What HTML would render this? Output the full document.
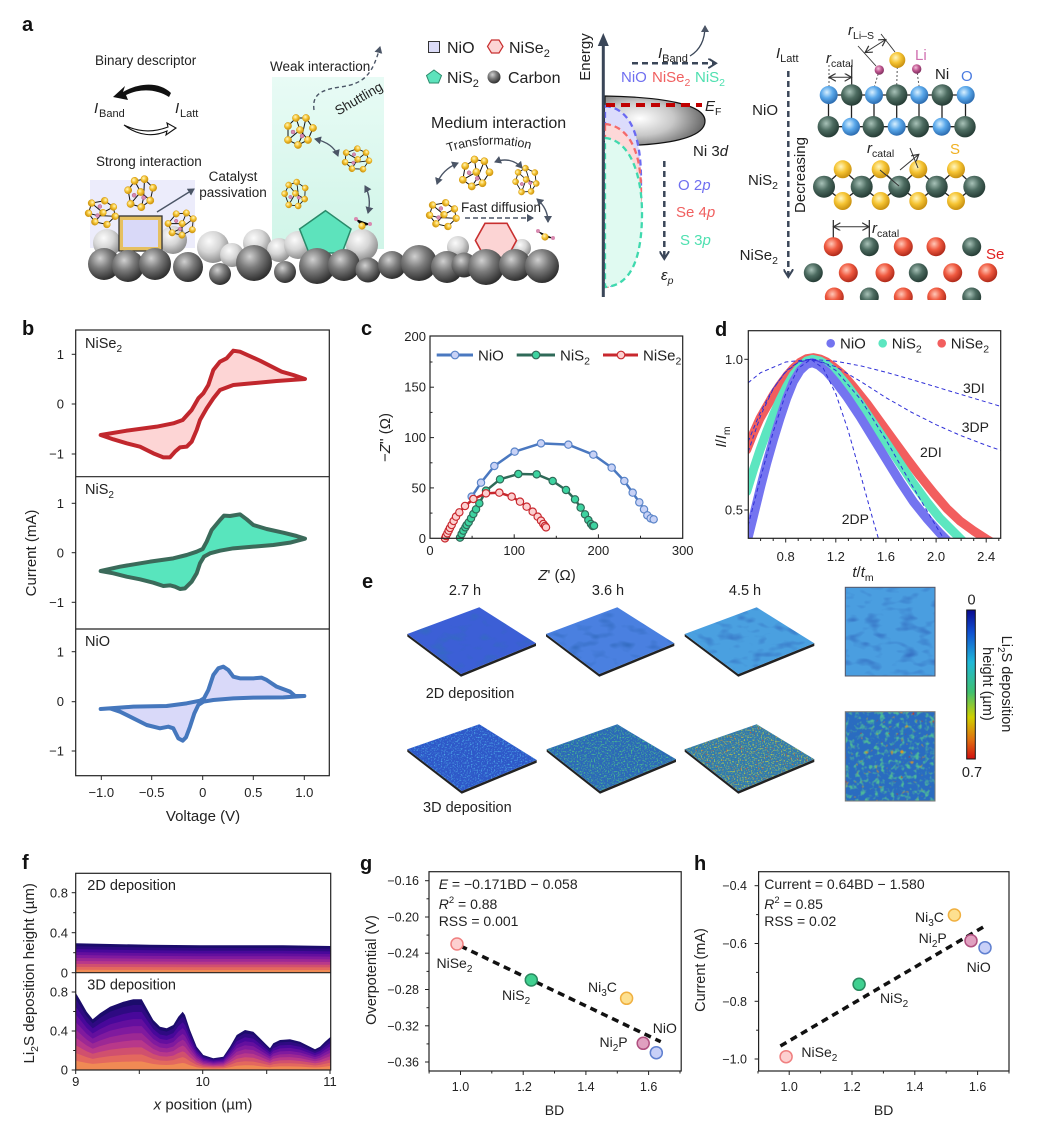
<!DOCTYPE html>
<html><head><meta charset="utf-8"><style>
html,body{margin:0;padding:0;background:#fff;}
svg{display:block;font-family:"Liberation Sans",sans-serif;}
</style></head><body>
<svg width="1037" height="1123" viewBox="0 0 1037 1123" xmlns="http://www.w3.org/2000/svg">
<defs>
<radialGradient id="gDark" cx="0.38" cy="0.32" r="0.7"><stop offset="0" stop-color="#d0d0d0"/><stop offset="0.45" stop-color="#7c7c7c"/><stop offset="1" stop-color="#2c2c2c"/></radialGradient>
<radialGradient id="gLight" cx="0.38" cy="0.32" r="0.7"><stop offset="0" stop-color="#fbfbfb"/><stop offset="0.5" stop-color="#d6d6d6"/><stop offset="1" stop-color="#8c8c8c"/></radialGradient>
<radialGradient id="gNi" cx="0.4" cy="0.35" r="0.65"><stop offset="0" stop-color="#a8c2b8"/><stop offset="0.5" stop-color="#4d6c61"/><stop offset="1" stop-color="#263d36"/></radialGradient>
<radialGradient id="gO" cx="0.4" cy="0.35" r="0.65"><stop offset="0" stop-color="#d8f0ff"/><stop offset="0.5" stop-color="#5aa8ea"/><stop offset="1" stop-color="#2c6cb0"/></radialGradient>
<radialGradient id="gS" cx="0.4" cy="0.35" r="0.65"><stop offset="0" stop-color="#fff6c0"/><stop offset="0.5" stop-color="#f6c534"/><stop offset="1" stop-color="#c89010"/></radialGradient>
<radialGradient id="gSe" cx="0.4" cy="0.35" r="0.65"><stop offset="0" stop-color="#ffc8b8"/><stop offset="0.5" stop-color="#f05a40"/><stop offset="1" stop-color="#b02a1a"/></radialGradient>
<radialGradient id="gLi" cx="0.4" cy="0.35" r="0.65"><stop offset="0" stop-color="#f4c0dc"/><stop offset="0.5" stop-color="#c05890"/><stop offset="1" stop-color="#803060"/></radialGradient>
<radialGradient id="gBand" cx="0.35" cy="0.45" r="0.75"><stop offset="0" stop-color="#ffffff"/><stop offset="0.45" stop-color="#c8c8c8"/><stop offset="1" stop-color="#4a4a4a"/></radialGradient>
<linearGradient id="gCyan" x1="0" y1="0" x2="0" y2="1"><stop offset="0" stop-color="#e8fbf5"/><stop offset="1" stop-color="#d0f5e8"/></linearGradient>
<linearGradient id="gCbar" x1="0" y1="0" x2="0" y2="1"><stop offset="0" stop-color="#0a0a90"/><stop offset="0.15" stop-color="#1050d0"/><stop offset="0.35" stop-color="#20b8d8"/><stop offset="0.55" stop-color="#40c070"/><stop offset="0.72" stop-color="#d0d000"/><stop offset="0.87" stop-color="#e07010"/><stop offset="1" stop-color="#d01010"/></linearGradient>
<marker id="ah" markerWidth="8" markerHeight="8" refX="6" refY="4" orient="auto" markerUnits="userSpaceOnUse"><path d="M0,0 L7,4 L0,8 Z" fill="#4b5566"/></marker>
<marker id="ahs" markerWidth="8" markerHeight="8" refX="6" refY="4" orient="auto-start-reverse" markerUnits="userSpaceOnUse"><path d="M0,0 L7,4 L0,8 Z" fill="#4b5566"/></marker>
<marker id="ahd" markerWidth="10" markerHeight="10" refX="7" refY="5" orient="auto" markerUnits="userSpaceOnUse"><path d="M0,0 L8,5 L0,10" fill="none" stroke="#3a4658" stroke-width="2"/></marker>
<marker id="ahk" markerWidth="8" markerHeight="8" refX="6" refY="4" orient="auto-start-reverse" markerUnits="userSpaceOnUse"><path d="M0,0 L7,4 L0,8" fill="none" stroke="#333" stroke-width="1.2"/></marker>
<g id="cl">
<g stroke="#111" stroke-width="1" fill="none">
<path d="M-12,-6 L-4,-14 L6,-14 L13,-4 L8,8 L-2,13 L-12,8 Z M-4,-14 L0,-2 L8,8 M0,-2 L-12,8 M6,-14 L2,4 L-2,13"/>
</g>
<g fill="url(#gS)" stroke="#d49a10" stroke-width="0.5">
<circle cx="-12" cy="-6" r="3.6"/><circle cx="-4" cy="-14" r="3.6"/><circle cx="6" cy="-14" r="3.6"/><circle cx="13" cy="-4" r="3.6"/><circle cx="8" cy="8" r="3.6"/><circle cx="-2" cy="13" r="3.6"/><circle cx="-12" cy="8" r="3.6"/><circle cx="0" cy="-2" r="3.6"/>
</g>
<circle cx="2" cy="4" r="2" fill="#d88ab0" stroke="#a05078" stroke-width="0.4"/><circle cx="-7" cy="0" r="2" fill="#d88ab0" stroke="#a05078" stroke-width="0.4"/>
</g>
<path id="flp" d="M75.7,992.7 L80,1000 L86.7,1011.7 L92.7,1019.3 L100,1013.3 L110,1006.7 L123.3,1001.7 L133.3,999.3 L141.7,999.3 L146.7,1008.3 L153.3,1020 L160,1026.7 L166.7,1028.3 L173.3,1025 L178.3,1016.7 L182.7,1011.7 L185,1015 L190,1030 L196.7,1046.7 L203.3,1055 L213.3,1058.3 L223.3,1056.7 L230,1046.7 L236.7,1035 L245,1030 L253.3,1031.7 L260,1038.3 L266.7,1045 L270,1048.3 L273.3,1043.3 L280,1040 L290,1039.3 L300,1041.7 L310,1046.7 L315,1049.3 L320,1046.7 L325,1041.7 L330.7,1036.7 L330.7,1070 L75.7,1070 Z"/>
<path id="fup" d="M75.7,943.3 L110,944 L150,944.7 L200,945.3 L250,945.3 L283,945.3 L330.7,946 L330.7,972.7 L75.7,972.7 Z"/>
<clipPath id="clipD"><rect x="748.3" y="330.7" width="252.4" height="207.6"/></clipPath>
<clipPath id="clipFu"><rect x="75.7" y="873.3" width="255" height="99.4"/></clipPath>
<clipPath id="clipFl"><rect x="75.7" y="972.7" width="255" height="97.3"/></clipPath>
<filter id="sp1" x="0" y="0" width="1" height="1" color-interpolation-filters="sRGB"><feTurbulence type="fractalNoise" baseFrequency="0.7" numOctaves="1" seed="2" result="n"/><feColorMatrix in="n" type="matrix" values="0 0 0 0 0.3 0 0 0 0 0.65 0 0 0 0 0.9 4 0 0 0 -2.05" result="c"/><feComposite in="c" in2="SourceGraphic" operator="in" result="m"/><feMerge><feMergeNode in="SourceGraphic"/><feMergeNode in="m"/></feMerge></filter>
<filter id="sp2" x="0" y="0" width="1" height="1" color-interpolation-filters="sRGB"><feTurbulence type="fractalNoise" baseFrequency="0.7" numOctaves="1" seed="5" result="n"/><feColorMatrix in="n" type="matrix" values="0 0 0 0 0.3 0 0 0 0 0.75 0 0 0 0 0.55 4 0 0 0 -2.0" result="c"/><feComposite in="c" in2="SourceGraphic" operator="in" result="m"/><feMerge><feMergeNode in="SourceGraphic"/><feMergeNode in="m"/></feMerge></filter>
<filter id="sp3" x="0" y="0" width="1" height="1" color-interpolation-filters="sRGB"><feTurbulence type="fractalNoise" baseFrequency="0.7" numOctaves="1" seed="8" result="n"/><feColorMatrix in="n" type="matrix" values="0 0 0 0 0.7 0 0 0 0 0.78 0 0 0 0 0.3 4 0 0 0 -2.0" result="c"/><feComposite in="c" in2="SourceGraphic" operator="in" result="m"/><feTurbulence type="fractalNoise" baseFrequency="0.5" numOctaves="1" seed="13" result="n2"/><feColorMatrix in="n2" type="matrix" values="0 0 0 0 0.85 0 0 0 0 0.3 0 0 0 0 0.15 5 0 0 0 -3.2" result="c2"/><feComposite in="c2" in2="SourceGraphic" operator="in" result="m2"/><feMerge><feMergeNode in="SourceGraphic"/><feMergeNode in="m"/><feMergeNode in="m2"/></feMerge></filter>
<filter id="sp4" x="0" y="0" width="1" height="1" color-interpolation-filters="sRGB"><feTurbulence type="fractalNoise" baseFrequency="0.2" numOctaves="2" seed="4" result="n"/><feColorMatrix in="n" type="matrix" values="0 0 0 0 0.3 0 0 0 0 0.72 0 0 0 0 0.6 4 0 0 0 -2.0" result="c"/><feComposite in="c" in2="SourceGraphic" operator="in" result="m"/><feTurbulence type="fractalNoise" baseFrequency="0.2" numOctaves="1" seed="21" result="n2"/><feColorMatrix in="n2" type="matrix" values="0 0 0 0 0.9 0 0 0 0 0.6 0 0 0 0 0.1 6 0 0 0 -4.0" result="c2"/><feComposite in="c2" in2="SourceGraphic" operator="in" result="m2"/><feTurbulence type="fractalNoise" baseFrequency="0.25" numOctaves="1" seed="33" result="n3"/><feColorMatrix in="n3" type="matrix" values="0 0 0 0 0.85 0 0 0 0 0.2 0 0 0 0 0.1 7 0 0 0 -5.0" result="c3"/><feComposite in="c3" in2="SourceGraphic" operator="in" result="m3"/><feMerge><feMergeNode in="SourceGraphic"/><feMergeNode in="m"/><feMergeNode in="m2"/><feMergeNode in="m3"/></feMerge></filter>
<filter id="sp5" x="0" y="0" width="1" height="1" color-interpolation-filters="sRGB"><feTurbulence type="fractalNoise" baseFrequency="0.06 0.12" numOctaves="2" seed="3" result="n"/><feColorMatrix in="n" type="matrix" values="0 0 0 0 0.2 0 0 0 0 0.42 0 0 0 0 0.75 2.5 0 0 0 -1.3" result="c"/><feComposite in="c" in2="SourceGraphic" operator="in" result="m"/><feMerge><feMergeNode in="SourceGraphic"/><feMergeNode in="m"/></feMerge></filter>
</defs>

<rect width="1037" height="1123" fill="#fff"/>

<!-- ================= PANEL A ================= -->
<text x="22" y="31" font-size="20" font-weight="bold" fill="#111">a</text>
<rect x="90" y="180" width="105" height="68" fill="#ececfb"/>
<rect x="272" y="77" width="112" height="172" fill="url(#gCyan)"/>
<g fill="url(#gLight)">
<circle cx="107" cy="243" r="14"/><circle cx="173" cy="240" r="14"/><circle cx="213" cy="247" r="16"/><circle cx="257" cy="243" r="14"/><circle cx="279" cy="250" r="12"/><circle cx="298" cy="245" r="14"/><circle cx="362" cy="245" r="16"/><circle cx="458" cy="247" r="11"/><circle cx="522" cy="248" r="9"/><circle cx="232" cy="255" r="12"/>
</g>
<rect x="121" y="218" width="39" height="31" fill="#d9d9f8" stroke="#e6c060" stroke-width="4"/>
<rect x="119" y="216" width="43" height="35" fill="none" stroke="#333" stroke-width="1.3"/>
<polygon points="325.5,210.7 351,229 342,253 309,253 299.6,229" fill="#5de3bc" stroke="#2a8a6a" stroke-width="1.5"/>
<polygon points="475.4,240.5 485,223.3 507,223.3 516.5,240.5 507,258 485,258" fill="#fcd4d4" stroke="#c83030" stroke-width="1.6"/>
<g fill="url(#gDark)">
<circle cx="104" cy="264" r="16"/><circle cx="128" cy="266" r="16"/><circle cx="155" cy="264" r="16"/><circle cx="188" cy="267" r="15"/><circle cx="220" cy="274" r="11"/><circle cx="254" cy="263" r="18"/><circle cx="285" cy="272" r="11"/><circle cx="317" cy="266" r="18"/><circle cx="344" cy="265" r="16"/><circle cx="368" cy="270" r="12.5"/><circle cx="392" cy="265" r="14"/><circle cx="419" cy="263" r="18"/><circle cx="447" cy="267" r="16"/><circle cx="464" cy="265" r="12.5"/><circle cx="486" cy="267" r="18"/><circle cx="515" cy="265" r="16"/><circle cx="542" cy="266" r="17"/>
</g>
<use href="#cl" transform="translate(101,213) rotate(80) scale(0.95)"/>
<use href="#cl" transform="translate(141,194) rotate(-10)"/>
<use href="#cl" transform="translate(181,225) rotate(40) scale(0.9)"/>
<use href="#cl" transform="translate(300,132)"/>
<use href="#cl" transform="translate(356,160) rotate(70) scale(0.85)"/>
<use href="#cl" transform="translate(296,195) rotate(-20) scale(0.85)"/>
<use href="#cl" transform="translate(476,174) rotate(10)"/>
<use href="#cl" transform="translate(527,181) rotate(-30) scale(0.85)"/>
<use href="#cl" transform="translate(442,215) rotate(80) scale(0.95)"/>
<g stroke="#111" stroke-width="1"><path d="M356,219 L362,226 L370,224 M538,231 L545,237 L553,238"/></g>
<circle cx="362" cy="226" r="3.6" fill="url(#gS)"/><circle cx="356" cy="219" r="2" fill="#d88ab0"/><circle cx="370" cy="224" r="2" fill="#d88ab0"/>
<circle cx="545" cy="237" r="3.6" fill="url(#gS)"/><circle cx="538" cy="231" r="2" fill="#d88ab0"/><circle cx="553" cy="238" r="2" fill="#d88ab0"/>
<g fill="none" stroke="#4b5566" stroke-width="1.4">
<path d="M157,212 L194,189" marker-end="url(#ah)"/>
<path d="M314,110 C312,95 320,90 340,87 C366,84 373,72 380,47" stroke-dasharray="4,3" marker-end="url(#ah)"/>
<path d="M315,139 C328,142 335,148 338,156" marker-start="url(#ahs)" marker-end="url(#ahs)"/>
<path d="M365,186 C370,195 370,205 368,213" marker-start="url(#ahs)" marker-end="url(#ahs)"/>
<path d="M458,163 C446,168 440,175 437,184" marker-start="url(#ahs)" marker-end="url(#ahs)"/>
<path d="M495,162 C505,158 515,160 522,168" marker-start="url(#ahs)" marker-end="url(#ahs)"/>
<path d="M537,199 C545,206 548,214 548,222" marker-start="url(#ahs)" marker-end="url(#ahs)"/>
<path d="M465,218 L533,218" stroke-dasharray="5,3" marker-end="url(#ah)"/>
</g>
<path d="M171,93 C160,82 140,82 123,92 L125,86 L113,97 L128,100 L126,95 C140,88 157,89 169,97 Z" fill="#111"/>
<path d="M124,125 C140,133 155,132 168,127 L167,123 L176,128 L166,135 L167,131 C154,137 138,136 124,125 Z" fill="#fff" stroke="#111" stroke-width="1.1"/>
<g fill="#222" font-size="13.5">
<text x="95" y="65">Binary descriptor</text>
<text x="94" y="113" font-style="italic" font-size="15">I</text><text x="99" y="117" font-size="11">Band</text>
<text x="175" y="113" font-style="italic" font-size="15">I</text><text x="180" y="117" font-size="11">Latt</text>
<text x="96" y="166">Strong interaction</text>
<text x="233" y="181" text-anchor="middle">Catalyst</text>
<text x="233" y="197" text-anchor="middle">passivation</text>
<text x="270" y="71">Weak interaction</text>
<text x="359" y="103" text-anchor="middle" transform="rotate(-30 359 99)">Shuttling</text>
<text x="431" y="128" font-size="16">Medium interaction</text>
<path id="tfp" d="M448,152 Q493,137 540,152" fill="none"/>
<text font-size="12.5"><textPath href="#tfp">Transformation</textPath></text>
<text x="461" y="212">Fast diffusion</text>
</g>
<rect x="428.5" y="41.5" width="11" height="11" fill="#dcdcf8" stroke="#333" stroke-width="1"/>
<text x="447" y="53" font-size="16" fill="#222">NiO</text>
<polygon points="487.5,46.5 491.5,40 499,40 503,46.5 499,53 491.5,53" fill="#fcd4d4" stroke="#c83030" stroke-width="1.2"/>
<text x="509" y="53" font-size="16" fill="#222">NiSe<tspan font-size="11" dy="4">2</tspan></text>
<polygon points="434,70 441.5,75.5 438.5,83 429.5,83 426.5,75.5" fill="#5de3bc" stroke="#2a8a6a" stroke-width="1"/>
<text x="447" y="83" font-size="16" fill="#222">NiS<tspan font-size="11" dy="4">2</tspan></text>
<circle cx="494" cy="77" r="6.5" fill="url(#gDark)"/>
<text x="508" y="83" font-size="16" fill="#222">Carbon</text>

<path d="M605,96 C662,97 705,104 705,121 C705,138 668,146 605,146 Z" fill="url(#gBand)" stroke="#111" stroke-width="1.2"/>
<path d="M605,106 C630,108 641,135 641,180 C641,240 630,285 605,287 Z" fill="#dcdcfc" stroke="#6a6af2" stroke-width="2.3" stroke-dasharray="6,4"/>
<path d="M605,124 C628,126 641,150 641,190 C641,245 630,285 605,287 Z" fill="#fdd8d8" stroke="#f46a6a" stroke-width="2.3" stroke-dasharray="6,4"/>
<path d="M605,138 C630,140 642,175 642,213 C642,260 630,286 605,287 Z" fill="#e0faf1" stroke="#3fd9ae" stroke-width="2.3" stroke-dasharray="6,4"/>
<line x1="606" y1="105" x2="702" y2="105" stroke="#c00000" stroke-width="4" stroke-dasharray="9,6"/>
<line x1="603.3" y1="44" x2="603.3" y2="297" stroke="#3a4658" stroke-width="3"/>
<polygon points="603.3,33 597.8,46 608.8,46" fill="#3a4658"/>
<text x="590" y="57" font-size="15" fill="#222" text-anchor="middle" transform="rotate(-90 590 57)">Energy</text>
<text x="658" y="58" font-size="15" fill="#222"><tspan font-style="italic">I</tspan><tspan font-size="11" dy="4">Band</tspan></text>
<path d="M690,56 C700,50 705,40 705,26" fill="none" stroke="#3a4658" stroke-width="1.3" marker-end="url(#ah)"/>
<line x1="632" y1="63.3" x2="715" y2="63.3" stroke="#3a4658" stroke-width="2.5" stroke-dasharray="6,4" marker-end="url(#ahd)"/>
<text x="621" y="82" font-size="15" fill="#6f6ff0">NiO</text>
<text x="652" y="82" font-size="15" fill="#f06060">NiSe<tspan font-size="10.5" dy="4">2</tspan></text>
<text x="695" y="82" font-size="15" fill="#4fe0b0">NiS<tspan font-size="10.5" dy="4">2</tspan></text>
<text x="705" y="111" font-size="15" fill="#222" font-style="italic">E<tspan font-size="10.5" dy="4" font-style="normal">F</tspan></text>
<text x="693" y="156" font-size="15" fill="#222">Ni 3<tspan font-style="italic">d</tspan></text>
<line x1="664.3" y1="161" x2="664.3" y2="258" stroke="#3a4658" stroke-width="2.5" stroke-dasharray="6,4" marker-end="url(#ahd)"/>
<text x="661" y="280" font-size="15" fill="#222" font-style="italic">ε<tspan font-size="10.5" dy="4">p</tspan></text>
<text x="678" y="190" font-size="15" fill="#6f6ff0">O 2<tspan font-style="italic">p</tspan></text>
<text x="676" y="217" font-size="15" fill="#f06060">Se 4<tspan font-style="italic">p</tspan></text>
<text x="680" y="245" font-size="15" fill="#4fe0b0">S 3<tspan font-style="italic">p</tspan></text>

<text x="776" y="58" font-size="15" fill="#222"><tspan font-style="italic">I</tspan><tspan font-size="11" dy="4">Latt</tspan></text>
<line x1="788.3" y1="71" x2="788.3" y2="276" stroke="#3a4658" stroke-width="2.5" stroke-dasharray="6,4" marker-end="url(#ahd)"/>
<text x="805" y="175" font-size="15" fill="#222" text-anchor="middle" transform="rotate(-90 805 175)">Decreasing</text>
<text x="778" y="115" font-size="15" fill="#222" text-anchor="end">NiO</text>
<text x="778" y="185" font-size="15" fill="#222" text-anchor="end">NiS<tspan font-size="10.5" dy="4">2</tspan></text>
<text x="778" y="260" font-size="15" fill="#222" text-anchor="end">NiSe<tspan font-size="10.5" dy="4">2</tspan></text>
<g stroke="#222" stroke-width="1.3">
<line x1="828" y1="95" x2="966" y2="95"/><line x1="828" y1="126.7" x2="966" y2="126.7"/>
<line x1="828.5" y1="95" x2="828.5" y2="126.7"/><line x1="851.5" y1="95" x2="851.5" y2="126.7"/><line x1="874" y1="95" x2="874" y2="126.7"/><line x1="896.7" y1="95" x2="896.7" y2="126.7"/><line x1="919" y1="95" x2="919" y2="126.7"/><line x1="942" y1="95" x2="942" y2="126.7"/><line x1="965.5" y1="95" x2="965.5" y2="126.7"/>
</g>
<g stroke="#555" stroke-width="1" stroke-dasharray="2,2"><line x1="879.3" y1="70" x2="874" y2="88"/><line x1="897.3" y1="67" x2="896.7" y2="86"/><line x1="916.7" y1="69" x2="919.3" y2="88"/><line x1="829" y1="65" x2="829" y2="86"/></g>
<line x1="851.7" y1="65" x2="851.7" y2="86" stroke="#222" stroke-width="1.2"/>
<line x1="830" y1="77.3" x2="850.5" y2="77.3" stroke="#333" stroke-width="1" marker-start="url(#ahk)" marker-end="url(#ahk)"/>
<g fill="url(#gO)"><circle cx="828.7" cy="95" r="9"/><circle cx="874" cy="95" r="9"/><circle cx="919.3" cy="95" r="9"/><circle cx="965.7" cy="95" r="9"/><circle cx="851" cy="126.7" r="9"/><circle cx="896.7" cy="126.7" r="9"/><circle cx="941.7" cy="126.7" r="9"/></g>
<g fill="url(#gNi)"><circle cx="851.7" cy="95" r="10.7"/><circle cx="896.7" cy="95" r="10.7"/><circle cx="942.3" cy="95" r="10.7"/><circle cx="828.3" cy="126.7" r="10.7"/><circle cx="873.3" cy="126.7" r="10.7"/><circle cx="918.3" cy="126.7" r="10.7"/><circle cx="965" cy="126.7" r="10.7"/></g>
<circle cx="897.3" cy="60" r="8" fill="url(#gS)"/>
<circle cx="879.3" cy="70" r="4.7" fill="url(#gLi)"/><circle cx="916.7" cy="69" r="4.7" fill="url(#gLi)"/>
<g stroke="#333" stroke-width="0.9"><line x1="858" y1="46" x2="876" y2="66"/><line x1="881" y1="34" x2="895" y2="52"/></g>
<line x1="866" y1="52" x2="885" y2="40" stroke="#333" stroke-width="1" marker-start="url(#ahk)" marker-end="url(#ahk)"/>
<text x="848" y="35" font-size="15" fill="#222"><tspan font-style="italic">r</tspan><tspan font-size="10.5" dy="4">Li–S</tspan></text>
<text x="826" y="63" font-size="15" fill="#222"><tspan font-style="italic">r</tspan><tspan font-size="10.5" dy="4">catal</tspan></text>
<text x="915" y="60" font-size="15" fill="#d070b0">Li</text>
<text x="935" y="79" font-size="15" fill="#222">Ni</text>
<text x="961" y="81" font-size="15" fill="#4a7be0">O</text>
<g stroke="#222" stroke-width="1.3" fill="none">
<polyline points="824,186.7 842.7,169.3 861.7,186.7 880.7,169.3 899.3,186.7 918.3,169.3 936.7,186.7 956,169.3 974.3,186.7"/>
<polyline points="824,186.7 842.7,201 861.7,186.7 880.7,201 899.3,186.7 918.3,201 936.7,186.7 956,201 974.3,186.7"/>
</g>
<g fill="url(#gNi)"><circle cx="824" cy="186.7" r="11"/><circle cx="861.7" cy="186.7" r="11"/><circle cx="899.3" cy="186.7" r="11"/><circle cx="936.7" cy="186.7" r="11"/><circle cx="974.3" cy="186.7" r="11"/></g>
<g fill="url(#gS)"><circle cx="842.7" cy="169.3" r="9"/><circle cx="880.7" cy="169.3" r="9"/><circle cx="918.3" cy="169.3" r="9"/><circle cx="956" cy="169.3" r="9"/><circle cx="842.7" cy="201" r="9"/><circle cx="880.7" cy="201" r="9"/><circle cx="918.3" cy="201" r="9"/><circle cx="956" cy="201" r="9"/></g>
<g stroke="#333" stroke-width="1"><line x1="880" y1="170" x2="899" y2="186"/><line x1="900" y1="170" x2="918" y2="155" marker-end="url(#ahk)"/><line x1="910" y1="148" x2="918" y2="168"/></g>
<text x="867" y="153" font-size="15" fill="#222"><tspan font-style="italic">r</tspan><tspan font-size="10.5" dy="4">catal</tspan></text>
<text x="950" y="154" font-size="15" fill="#f0b020">S</text>
<g stroke="#222" stroke-width="1.2"><line x1="833.3" y1="220" x2="833.3" y2="246"/><line x1="869.3" y1="220" x2="869.3" y2="246"/></g>
<line x1="834.5" y1="226.7" x2="868" y2="226.7" stroke="#333" stroke-width="1" marker-start="url(#ahk)" marker-end="url(#ahk)"/>
<text x="872" y="233" font-size="15" fill="#222"><tspan font-style="italic">r</tspan><tspan font-size="10.5" dy="4">catal</tspan></text>
<g fill="url(#gSe)"><circle cx="833.3" cy="246.7" r="9.5"/><circle cx="903.3" cy="246.7" r="9.5"/><circle cx="936" cy="246.7" r="9.5"/><circle cx="848.3" cy="272.7" r="9.5"/><circle cx="885" cy="272.7" r="9.5"/><circle cx="952.7" cy="272.7" r="9.5"/><circle cx="987.7" cy="272.7" r="9.5"/><circle cx="834.3" cy="297" r="9.5"/><circle cx="903.3" cy="297" r="9.5"/><circle cx="936.7" cy="297" r="9.5"/></g>
<g fill="url(#gNi)"><circle cx="869.3" cy="246.7" r="9.5"/><circle cx="971.7" cy="246.7" r="9.5"/><circle cx="813.3" cy="272.7" r="9.5"/><circle cx="918.3" cy="272.7" r="9.5"/><circle cx="869.3" cy="297" r="9.5"/><circle cx="971.7" cy="297" r="9.5"/></g>
<rect x="800" y="300" width="237" height="12" fill="#fff"/>
<text x="986" y="259" font-size="15" fill="#e02020">Se</text>

<!-- ================= PANEL B ================= -->
<text x="22" y="335" font-size="20" font-weight="bold" fill="#111">b</text>
<g transform="translate(0,310) scale(0.333333)" stroke-linejoin="round" stroke-width="12">
<path d="M302,375 L380,362 L470,350 L520,340 L548,330 L575,300 L595,265 L610,250 L625,225 L640,180 L660,155 L680,145 L700,122 L720,125 L780,152 L845,185 L880,195 L915,207 L830,213 L700,225 L660,240 L640,265 L620,295 L600,330 L590,360 L575,395 L560,410 L540,412 L525,425 L510,442 L490,442 L460,430 L420,410 L380,400 L340,388 Z" fill="#fdd5d5" stroke="#c1272d"/>
<path d="M302,783 L360,770 L450,755 L520,745 L560,735 L590,725 L608,717 L620,695 L635,660 L660,630 L672,617 L690,618 L720,613 L740,628 L760,645 L800,657 L850,668 L890,678 L915,686 L870,698 L820,705 L760,710 L700,715 L660,722 L630,730 L612,740 L600,760 L590,790 L575,815 L555,835 L540,837 L525,830 L510,826 L490,828 L460,818 L420,808 L380,800 L340,790 Z" fill="#58e5bd" stroke="#3b6a5a"/>
<path d="M302,1197 L400,1190 L500,1188 L560,1180 L600,1172 L612,1165 L625,1140 L640,1095 L655,1075 L670,1070 L685,1080 L700,1100 L720,1105 L760,1105 L785,1103 L800,1110 L830,1130 L870,1145 L885,1158 L913,1158 L850,1162 L760,1163 L700,1165 L640,1170 L610,1175 L595,1185 L583,1210 L570,1250 L558,1282 L548,1292 L535,1285 L520,1255 L505,1250 L480,1255 L440,1245 L400,1225 L360,1205 L330,1195 Z" fill="#d9d9f9" stroke="#4577bd"/>
</g>
<g fill="none" stroke="#222" stroke-width="1.2">
<rect x="75.7" y="330" width="253.6" height="445.7"/>
<line x1="75.7" y1="476.7" x2="329.3" y2="476.7"/><line x1="75.7" y1="629" x2="329.3" y2="629"/>
</g>
<g stroke="#222" stroke-width="1">
<line x1="71.7" y1="354.3" x2="75.7" y2="354.3"/><line x1="71.7" y1="404" x2="75.7" y2="404"/><line x1="71.7" y1="454" x2="75.7" y2="454"/>
<line x1="71.7" y1="503.3" x2="75.7" y2="503.3"/><line x1="71.7" y1="552.7" x2="75.7" y2="552.7"/><line x1="71.7" y1="602.3" x2="75.7" y2="602.3"/>
<line x1="71.7" y1="651.7" x2="75.7" y2="651.7"/><line x1="71.7" y1="701.7" x2="75.7" y2="701.7"/><line x1="71.7" y1="751" x2="75.7" y2="751"/>
<line x1="101.3" y1="775.7" x2="101.3" y2="780"/><line x1="151.7" y1="775.7" x2="151.7" y2="780"/><line x1="202.7" y1="775.7" x2="202.7" y2="780"/><line x1="253.3" y1="775.7" x2="253.3" y2="780"/><line x1="304.3" y1="775.7" x2="304.3" y2="780"/>
</g>
<g font-size="13" fill="#222" text-anchor="end">
<text x="64" y="359">1</text><text x="64" y="408.5">0</text><text x="64" y="458.5">−1</text>
<text x="64" y="508">1</text><text x="64" y="557.5">0</text><text x="64" y="607">−1</text>
<text x="64" y="656.5">1</text><text x="64" y="706">0</text><text x="64" y="755.5">−1</text>
</g>
<g font-size="13" fill="#222" text-anchor="middle">
<text x="101.3" y="797">−1.0</text><text x="151.7" y="797">−0.5</text><text x="202.7" y="797">0</text><text x="253.3" y="797">0.5</text><text x="304.3" y="797">1.0</text>
</g>
<text x="203" y="821" font-size="15" fill="#222" text-anchor="middle">Voltage (V)</text>
<text x="36" y="553" font-size="15" fill="#222" text-anchor="middle" transform="rotate(-90 36 553)">Current (mA)</text>
<text x="85" y="348" font-size="14.5" fill="#222">NiSe<tspan font-size="10" dy="4">2</tspan></text>
<text x="85" y="494" font-size="14.5" fill="#222">NiS<tspan font-size="10" dy="4">2</tspan></text>
<text x="85" y="646" font-size="14.5" fill="#222">NiO</text>

<!-- ================= PANEL C ================= -->
<text x="361" y="335" font-size="20" font-weight="bold" fill="#111">c</text>
<g transform="translate(360,310) scale(0.333333)">
<polyline points="335,560 363,518 403,468 464,425 543,400 625,404 700,434 755,473 793,513 818,548 838,577 852,598 862,616 872,625 881,628" fill="none" stroke="#4a78c0" stroke-width="7.5" stroke-linejoin="round"/>
<g fill="#c8d2f6" stroke="#5a84c8" stroke-width="3.5">
<circle cx="335" cy="560" r="11"/><circle cx="363" cy="518" r="11"/><circle cx="403" cy="468" r="11"/><circle cx="464" cy="425" r="11"/><circle cx="543" cy="400" r="11"/><circle cx="625" cy="404" r="11"/><circle cx="700" cy="434" r="11"/><circle cx="755" cy="473" r="11"/><circle cx="793" cy="513" r="11"/><circle cx="818" cy="548" r="11"/><circle cx="838" cy="577" r="11"/><circle cx="852" cy="598" r="11"/><circle cx="862" cy="616" r="11"/><circle cx="872" cy="625" r="11"/><circle cx="881" cy="628" r="11"/>
</g>
<polyline points="300,683 305,672 310,662 316,652 320,645 326,637 333,625 340,612 348,598 358,580 378,542 420,508 475,492 530,493 578,513 618,540 645,568 662,593 675,613 685,630 693,642 698,648 702,647" fill="none" stroke="#2f6a58" stroke-width="7.5" stroke-linejoin="round"/>
<g fill="#3dd3a0" stroke="#2f6a58" stroke-width="3.5">
<circle cx="300" cy="683" r="11"/><circle cx="305" cy="672" r="11"/><circle cx="310" cy="662" r="11"/><circle cx="316" cy="652" r="11"/><circle cx="320" cy="645" r="11"/><circle cx="326" cy="637" r="11"/><circle cx="333" cy="625" r="11"/><circle cx="340" cy="612" r="11"/><circle cx="348" cy="598" r="11"/><circle cx="358" cy="580" r="11"/><circle cx="378" cy="542" r="11"/><circle cx="420" cy="508" r="11"/><circle cx="475" cy="492" r="11"/><circle cx="530" cy="493" r="11"/><circle cx="578" cy="513" r="11"/><circle cx="618" cy="540" r="11"/><circle cx="645" cy="568" r="11"/><circle cx="662" cy="593" r="11"/><circle cx="675" cy="613" r="11"/><circle cx="685" cy="630" r="11"/><circle cx="693" cy="642" r="11"/><circle cx="698" cy="648" r="11"/><circle cx="702" cy="647" r="11"/>
</g>
<polyline points="255,685 258,678 262,670 266,662 270,654 275,645 281,633 288,620 298,607 315,588 340,567 378,550 418,548 455,560 480,575 500,590 518,605 533,620 543,632 550,642 555,648 558,652" fill="none" stroke="#c8282e" stroke-width="7.5" stroke-linejoin="round"/>
<g fill="#fcd0d0" stroke="#c8282e" stroke-width="3.5">
<circle cx="255" cy="685" r="11"/><circle cx="258" cy="678" r="11"/><circle cx="262" cy="670" r="11"/><circle cx="266" cy="662" r="11"/><circle cx="270" cy="654" r="11"/><circle cx="275" cy="645" r="11"/><circle cx="281" cy="633" r="11"/><circle cx="288" cy="620" r="11"/><circle cx="298" cy="607" r="11"/><circle cx="315" cy="588" r="11"/><circle cx="340" cy="567" r="11"/><circle cx="378" cy="550" r="11"/><circle cx="418" cy="548" r="11"/><circle cx="455" cy="560" r="11"/><circle cx="480" cy="575" r="11"/><circle cx="500" cy="590" r="11"/><circle cx="518" cy="605" r="11"/><circle cx="533" cy="620" r="11"/><circle cx="543" cy="632" r="11"/><circle cx="550" cy="642" r="11"/><circle cx="555" cy="648" r="11"/><circle cx="558" cy="652" r="11"/>
</g>
</g>
<rect x="430" y="336" width="252.7" height="202.3" fill="none" stroke="#222" stroke-width="1.2"/>
<g stroke="#222" stroke-width="1">
<line x1="430" y1="487.9" x2="434" y2="487.9"/><line x1="430" y1="437.6" x2="434" y2="437.6"/><line x1="430" y1="387.2" x2="434" y2="387.2"/>
<line x1="430" y1="513.1" x2="432.5" y2="513.1"/><line x1="430" y1="462.8" x2="432.5" y2="462.8"/><line x1="430" y1="412.4" x2="432.5" y2="412.4"/><line x1="430" y1="362" x2="432.5" y2="362"/>
<line x1="514.2" y1="538.3" x2="514.2" y2="534.3"/><line x1="598.4" y1="538.3" x2="598.4" y2="534.3"/>
<line x1="472.1" y1="538.3" x2="472.1" y2="535.8"/><line x1="556.3" y1="538.3" x2="556.3" y2="535.8"/><line x1="640.5" y1="538.3" x2="640.5" y2="535.8"/>
</g>
<g font-size="13" fill="#222" text-anchor="end">
<text x="426" y="341">200</text><text x="426" y="391.7">150</text><text x="426" y="442">100</text><text x="426" y="492.4">50</text><text x="426" y="542.8">0</text>
</g>
<g font-size="13" fill="#222" text-anchor="middle">
<text x="430" y="555">0</text><text x="514.2" y="555">100</text><text x="598.4" y="555">200</text><text x="682.7" y="555">300</text>
</g>
<text x="557" y="580" font-size="15" fill="#222" text-anchor="middle"><tspan font-style="italic">Z</tspan>' (Ω)</text>
<text x="390" y="437.5" font-size="15" fill="#222" text-anchor="middle" transform="rotate(-90 390 437.5)">−<tspan font-style="italic">Z</tspan>'' (Ω)</text>
<line x1="436.7" y1="355" x2="473" y2="355" stroke="#4a78c0" stroke-width="3"/><circle cx="455" cy="355" r="3.8" fill="#c8d2f6" stroke="#5a84c8" stroke-width="1.2"/>
<text x="478" y="360.5" font-size="15" fill="#222">NiO</text>
<line x1="516.7" y1="355" x2="555" y2="355" stroke="#2f6a58" stroke-width="3"/><circle cx="536" cy="355" r="3.8" fill="#3dd3a0" stroke="#2f6a58" stroke-width="1.2"/>
<text x="560" y="360.5" font-size="15" fill="#222">NiS<tspan font-size="10.5" dy="4">2</tspan></text>
<line x1="603" y1="355" x2="638" y2="355" stroke="#c8282e" stroke-width="3"/><circle cx="621" cy="355" r="3.8" fill="#fcd0d0" stroke="#c8282e" stroke-width="1.2"/>
<text x="643" y="360.5" font-size="15" fill="#222">NiSe<tspan font-size="10.5" dy="4">2</tspan></text>

<!-- ================= PANEL D ================= -->
<text x="715" y="336" font-size="20" font-weight="bold" fill="#111">d</text>
<g clip-path="url(#clipD)">
<g transform="translate(700,310) scale(0.333333)" fill="none" stroke-linecap="round" stroke-linejoin="round" stroke-width="27">
<polyline points="140,420 160,370 180,325 200,290 220,255 240,225 260,198 280,175 300,157 320,146 340,143 360,147 380,156 400,170 430,195 460,230 500,280 540,335 580,390 620,445 660,498 700,548 740,595 780,633 820,662 860,688 890,705" stroke="#f25e5e"/>
<polyline points="140,545 160,480 180,420 200,365 220,315 240,270 260,230 280,195 300,170 320,153 338,148 360,153 380,165 410,190 440,225 480,280 520,340 560,400 600,460 640,520 680,575 720,625 760,665 790,695" stroke="#5ce6c0"/>
<polyline points="140,700 160,620 182,530 200,460 220,390 240,325 260,265 280,215 300,182 320,163 337,158 355,165 380,185 410,220 440,260 480,320 520,385 560,450 600,515 640,575 680,625 720,670 745,695" stroke="#7474f0"/>
</g>
<g fill="none" stroke="#3030d8" stroke-width="1" stroke-dasharray="4,3">
<polyline points="748.1,382.8 760.6,372.7 785.7,362 810.8,359.3 835.8,361.2 860.9,365.9 885.9,372.2 911,379.4 936.1,386.9 961.1,394.5 986.2,402 1000.9,406.4"/>
<polyline points="748.1,451.9 760.6,415.7 773.2,388.8 785.7,371.3 798.2,362 810.8,359.3 835.8,366.7 860.9,381.6 885.9,397.6 911,412 936.1,424.7 961.1,435.7 986.2,445.3 1000.9,450.4"/>
<polyline points="748.1,441.6 760.6,411.7 773.2,388.5 785.7,372 798.2,362.4 810.8,359.3 823.3,362.3 835.8,370.4 860.9,399.7 885.9,439.7 911,483.7 936.1,526.2 943.6,538.3"/>
<polyline points="748.1,525.6 760.6,477.7 773.2,431.9 785.7,393.7 798.2,368.3 810.8,359.3 823.3,368.3 835.8,393.7 848.4,431.3 860.9,475.9 873.4,521.4 879.7,542.8"/>
</g>
</g>
<rect x="748.3" y="330.7" width="252.4" height="207.6" fill="none" stroke="#222" stroke-width="1.2"/>
<g stroke="#222" stroke-width="1">
<line x1="785.7" y1="538.3" x2="785.7" y2="542.5"/><line x1="835.8" y1="538.3" x2="835.8" y2="542.5"/><line x1="885.9" y1="538.3" x2="885.9" y2="542.5"/><line x1="936.1" y1="538.3" x2="936.1" y2="542.5"/><line x1="986.2" y1="538.3" x2="986.2" y2="542.5"/>
<line x1="760.6" y1="538.3" x2="760.6" y2="541"/><line x1="773.2" y1="538.3" x2="773.2" y2="541"/><line x1="798.2" y1="538.3" x2="798.2" y2="541"/><line x1="810.8" y1="538.3" x2="810.8" y2="541"/><line x1="823.3" y1="538.3" x2="823.3" y2="541"/><line x1="848.4" y1="538.3" x2="848.4" y2="541"/><line x1="860.9" y1="538.3" x2="860.9" y2="541"/><line x1="873.4" y1="538.3" x2="873.4" y2="541"/><line x1="898.5" y1="538.3" x2="898.5" y2="541"/><line x1="911" y1="538.3" x2="911" y2="541"/><line x1="923.5" y1="538.3" x2="923.5" y2="541"/><line x1="948.6" y1="538.3" x2="948.6" y2="541"/><line x1="961.1" y1="538.3" x2="961.1" y2="541"/><line x1="973.7" y1="538.3" x2="973.7" y2="541"/><line x1="998.8" y1="538.3" x2="998.8" y2="541"/>
<line x1="744.3" y1="359.3" x2="748.3" y2="359.3"/><line x1="744.3" y1="510" x2="748.3" y2="510"/>
</g>
<g font-size="13" fill="#222">
<text x="743" y="364" text-anchor="end">1.0</text><text x="743" y="514.5" text-anchor="end">0.5</text>
<g text-anchor="middle"><text x="785.7" y="561">0.8</text><text x="835.8" y="561">1.2</text><text x="885.9" y="561">1.6</text><text x="936.1" y="561">2.0</text><text x="986.2" y="561">2.4</text></g>
</g>
<text x="863" y="577" font-size="15" fill="#222" text-anchor="middle"><tspan font-style="italic">t</tspan>/<tspan font-style="italic">t</tspan><tspan font-size="10.5" dy="4">m</tspan></text>
<text x="726" y="437" font-size="15" fill="#222" text-anchor="middle" transform="rotate(-90 726 437)"><tspan font-style="italic">I</tspan>/<tspan font-style="italic">I</tspan><tspan font-size="10.5" dy="4">m</tspan></text>
<circle cx="830.7" cy="343.3" r="4.3" fill="#7474f0"/><text x="840" y="348.5" font-size="15" fill="#222">NiO</text>
<circle cx="882.7" cy="343.3" r="4.3" fill="#5ce6c0"/><text x="891.7" y="348.5" font-size="15" fill="#222">NiS<tspan font-size="10.5" dy="4">2</tspan></text>
<circle cx="941.7" cy="343.3" r="4.3" fill="#f25e5e"/><text x="950.7" y="348.5" font-size="15" fill="#222">NiSe<tspan font-size="10.5" dy="4">2</tspan></text>
<g font-size="14" fill="#222">
<text x="963" y="393">3DI</text><text x="961.7" y="432">3DP</text><text x="920" y="457">2DI</text><text x="841.7" y="524">2DP</text>
</g>

<!-- ================= PANEL E ================= -->
<text x="362" y="588" font-size="20" font-weight="bold" fill="#111">e</text>
<g font-size="14.5" fill="#222" text-anchor="middle">
<text x="465" y="595">2.7 h</text><text x="608" y="595">3.6 h</text><text x="745" y="595">4.5 h</text>
</g>
<g fill="#222">
<polygon points="407.3,634 461,674 536,643.3 536,646 461,676.8 407.3,636.5"/>
<polygon points="546,634 599.3,674 674.3,643.3 674.3,646 599.3,676.8 546,636.5"/>
<polygon points="684.7,634 738.3,674 814.3,643.3 814.3,646 738.3,676.8 684.7,636.5"/>
<polygon points="407.3,749.3 461.7,791 536.7,760 536.7,762.7 461.7,793.8 407.3,751.8"/>
<polygon points="546.7,749.3 600,791 676,759.3 676,762 600,793.8 546.7,751.8"/>
<polygon points="684.7,749.3 738.3,791 814.3,759.3 814.3,762 738.3,793.8 684.7,751.8"/>
</g>
<polygon points="407.3,634 479.3,607.3 536,643.3 461,674" fill="#3c5fd6" filter="url(#sp5)"/>
<polygon points="546,634 617.3,607.3 674.3,643.3 599.3,674" fill="#4a80e0" filter="url(#sp5)"/>
<polygon points="684.7,634 756.7,607.3 814.3,643.3 738.3,674" fill="#4aa0e0" filter="url(#sp5)"/>
<polygon points="407.3,749.3 479.3,724.3 536.7,760 461.7,791" fill="#2e58c8" filter="url(#sp1)"/>
<polygon points="546.7,749.3 617.3,724.3 676,759.3 600,791" fill="#2c68b8" filter="url(#sp2)"/>
<polygon points="684.7,749.3 756.7,724.3 814.3,759.3 738.3,791" fill="#2f7ab0" filter="url(#sp3)"/>
<rect x="845.3" y="587.3" width="89.7" height="88.7" fill="#4a9ee0" filter="url(#sp5)"/>
<rect x="845.3" y="587.3" width="89.7" height="88.7" fill="none" stroke="#556" stroke-width="1"/>
<rect x="845.3" y="711.7" width="89.7" height="89.3" fill="#2a6cc0" filter="url(#sp4)"/>
<rect x="845.3" y="711.7" width="89.7" height="89.3" fill="none" stroke="#777" stroke-width="1"/>
<g font-size="14.5" fill="#222">
<text x="425.7" y="698">2D deposition</text><text x="423" y="812">3D deposition</text>
</g>
<rect x="966.7" y="610" width="8.6" height="149" fill="url(#gCbar)" stroke="#111" stroke-width="1"/>
<text x="971.5" y="604.5" font-size="14.5" fill="#222" text-anchor="middle">0</text>
<text x="972" y="777" font-size="14.5" fill="#222" text-anchor="middle">0.7</text>
<text x="1002" y="684" font-size="14.5" fill="#222" text-anchor="middle" transform="rotate(90 1002 684)">Li<tspan font-size="10" dy="4">2</tspan><tspan dy="-4">S deposition</tspan></text>
<text x="983" y="684" font-size="14.5" fill="#222" text-anchor="middle" transform="rotate(90 983 684)">height (µm)</text>

<!-- ================= PANEL F ================= -->
<text x="22" y="869" font-size="20" font-weight="bold" fill="#111">f</text>
<g clip-path="url(#clipFu)">
<use href="#fup" fill="#1b0c6b"/>
<use href="#fup" fill="#2e0a82" transform="translate(0,972.7) scale(1,0.9) translate(0,-972.7)"/>
<use href="#fup" fill="#48089a" transform="translate(0,972.7) scale(1,0.8) translate(0,-972.7)"/>
<use href="#fup" fill="#640f9e" transform="translate(0,972.7) scale(1,0.7) translate(0,-972.7)"/>
<use href="#fup" fill="#801a9e" transform="translate(0,972.7) scale(1,0.6) translate(0,-972.7)"/>
<use href="#fup" fill="#9c2894" transform="translate(0,972.7) scale(1,0.5) translate(0,-972.7)"/>
<use href="#fup" fill="#b8388a" transform="translate(0,972.7) scale(1,0.4) translate(0,-972.7)"/>
<use href="#fup" fill="#d0506e" transform="translate(0,972.7) scale(1,0.3) translate(0,-972.7)"/>
<use href="#fup" fill="#e3685e" transform="translate(0,972.7) scale(1,0.2) translate(0,-972.7)"/>
<use href="#fup" fill="#f08a54" transform="translate(0,972.7) scale(1,0.1) translate(0,-972.7)"/>
</g>
<g clip-path="url(#clipFl)">
<use href="#flp" fill="#1b0c6b"/>
<use href="#flp" fill="#2e0a82" transform="translate(0,1070) scale(1,0.92) translate(0,-1070)"/>
<use href="#flp" fill="#48089a" transform="translate(0,1070) scale(1,0.82) translate(0,-1070)"/>
<use href="#flp" fill="#640f9e" transform="translate(0,1070) scale(1,0.72) translate(0,-1070)"/>
<use href="#flp" fill="#801a9e" transform="translate(0,1070) scale(1,0.62) translate(0,-1070)"/>
<use href="#flp" fill="#9c2894" transform="translate(0,1070) scale(1,0.52) translate(0,-1070)"/>
<use href="#flp" fill="#b8388a" transform="translate(0,1070) scale(1,0.42) translate(0,-1070)"/>
<use href="#flp" fill="#d0506e" transform="translate(0,1070) scale(1,0.32) translate(0,-1070)"/>
<use href="#flp" fill="#e3685e" transform="translate(0,1070) scale(1,0.22) translate(0,-1070)"/>
<use href="#flp" fill="#f08a54" transform="translate(0,1070) scale(1,0.12) translate(0,-1070)"/>
</g>
<g fill="none" stroke="#222" stroke-width="1.2">
<rect x="75.7" y="873.3" width="255" height="196.7"/>
<line x1="75.7" y1="972.7" x2="330.7" y2="972.7"/>
</g>
<g stroke="#222" stroke-width="1">
<line x1="71.7" y1="892.7" x2="75.7" y2="892.7"/><line x1="71.7" y1="932.7" x2="75.7" y2="932.7"/><line x1="71.7" y1="972.7" x2="75.7" y2="972.7"/>
<line x1="73.2" y1="912.7" x2="75.7" y2="912.7"/><line x1="73.2" y1="952.7" x2="75.7" y2="952.7"/>
<line x1="71.7" y1="992" x2="75.7" y2="992"/><line x1="71.7" y1="1031" x2="75.7" y2="1031"/><line x1="71.7" y1="1070" x2="75.7" y2="1070"/>
<line x1="73.2" y1="1011.5" x2="75.7" y2="1011.5"/><line x1="73.2" y1="1050.5" x2="75.7" y2="1050.5"/>
<line x1="75.7" y1="1070" x2="75.7" y2="1074"/><line x1="139.3" y1="1070" x2="139.3" y2="1074"/><line x1="202.7" y1="1070" x2="202.7" y2="1074"/><line x1="266.7" y1="1070" x2="266.7" y2="1074"/><line x1="330" y1="1070" x2="330" y2="1074"/>
</g>
<g font-size="13" fill="#222" text-anchor="end">
<text x="68" y="897.3">0.8</text><text x="68" y="937.3">0.4</text><text x="68" y="977.3">0</text>
<text x="68" y="996.6">0.8</text><text x="68" y="1035.6">0.4</text><text x="68" y="1074.6">0</text>
</g>
<g font-size="13" fill="#222" text-anchor="middle">
<text x="75.7" y="1086">9</text><text x="202.7" y="1086">10</text><text x="330" y="1086">11</text>
</g>
<text x="203" y="1109.5" font-size="15" fill="#222" text-anchor="middle"><tspan font-style="italic">x</tspan> position (µm)</text>
<text x="34" y="973.3" font-size="15" fill="#222" text-anchor="middle" transform="rotate(-90 34 973.3)">Li<tspan font-size="10.5" dy="4">2</tspan><tspan dy="-4">S deposition height (µm)</tspan></text>
<text x="87.3" y="890" font-size="14.5" fill="#222">2D deposition</text>
<text x="87.3" y="989.3" font-size="14.5" fill="#222">3D deposition</text>

<!-- ================= PANEL G ================= -->
<text x="360" y="870" font-size="20" font-weight="bold" fill="#111">g</text>
<rect x="429" y="871.7" width="252.2" height="199.3" fill="none" stroke="#222" stroke-width="1.2"/>
<g stroke="#222" stroke-width="1">
<line x1="425" y1="880.7" x2="429" y2="880.7"/><line x1="425" y1="917" x2="429" y2="917"/><line x1="425" y1="953.2" x2="429" y2="953.2"/><line x1="425" y1="989.5" x2="429" y2="989.5"/><line x1="425" y1="1025.8" x2="429" y2="1025.8"/><line x1="425" y1="1062" x2="429" y2="1062"/>
<line x1="426.5" y1="898.8" x2="429" y2="898.8"/><line x1="426.5" y1="935.1" x2="429" y2="935.1"/><line x1="426.5" y1="971.4" x2="429" y2="971.4"/><line x1="426.5" y1="1007.7" x2="429" y2="1007.7"/><line x1="426.5" y1="1043.9" x2="429" y2="1043.9"/>
<line x1="460.5" y1="1071" x2="460.5" y2="1075"/><line x1="523.2" y1="1071" x2="523.2" y2="1075"/><line x1="585.9" y1="1071" x2="585.9" y2="1075"/><line x1="648.6" y1="1071" x2="648.6" y2="1075"/>
<line x1="429.1" y1="1071" x2="429.1" y2="1073.5"/><line x1="491.8" y1="1071" x2="491.8" y2="1073.5"/><line x1="554.5" y1="1071" x2="554.5" y2="1073.5"/><line x1="617.3" y1="1071" x2="617.3" y2="1073.5"/><line x1="680" y1="1071" x2="680" y2="1073.5"/>
</g>
<g font-size="12.5" fill="#222" text-anchor="end">
<text x="419" y="885.2">−0.16</text><text x="419" y="921.5">−0.20</text><text x="419" y="957.7">−0.24</text><text x="419" y="994">−0.28</text><text x="419" y="1030.3">−0.32</text><text x="419" y="1066.5">−0.36</text>
</g>
<g font-size="12.5" fill="#222" text-anchor="middle">
<text x="460.5" y="1091">1.0</text><text x="523.2" y="1091">1.2</text><text x="585.9" y="1091">1.4</text><text x="648.6" y="1091">1.6</text>
</g>
<text x="554.5" y="1115" font-size="14" fill="#222" text-anchor="middle">BD</text>
<text x="376" y="970" font-size="14.5" fill="#222" text-anchor="middle" transform="rotate(-90 376 970)">Overpotential (V)</text>
<line x1="460.5" y1="946" x2="660.7" y2="1041.7" stroke="#111" stroke-width="3.5" stroke-dasharray="7,5"/>
<g stroke-width="1.5">
<circle cx="457" cy="944" r="6" fill="#fdd0d0" stroke="#f08080"/>
<circle cx="531.3" cy="980" r="6" fill="#40d090" stroke="#2a8a60"/>
<circle cx="626.6" cy="998.3" r="6" fill="#fde090" stroke="#f0b040"/>
<circle cx="643.2" cy="1043.3" r="6" fill="#e0a0c0" stroke="#b05080"/>
<circle cx="656.3" cy="1052.7" r="6" fill="#c8d0f8" stroke="#6080d0"/>
</g>
<g font-size="14" fill="#222">
<text x="438.7" y="889"><tspan font-style="italic">E</tspan> = −0.171BD − 0.058</text>
<text x="438.7" y="909"><tspan font-style="italic">R</tspan><tspan font-size="9.5" dy="-6">2</tspan><tspan dy="6"> = 0.88</tspan></text>
<text x="438.7" y="926">RSS = 0.001</text>
<text x="436.5" y="968">NiSe<tspan font-size="10" dy="4">2</tspan></text>
<text x="502" y="1000">NiS<tspan font-size="10" dy="4">2</tspan></text>
<text x="588" y="992">Ni<tspan font-size="10" dy="4">3</tspan><tspan dy="-4">C</tspan></text>
<text x="652.8" y="1033">NiO</text>
<text x="599.5" y="1047">Ni<tspan font-size="10" dy="4">2</tspan><tspan dy="-4">P</tspan></text>
</g>

<!-- ================= PANEL H ================= -->
<text x="694" y="870" font-size="20" font-weight="bold" fill="#111">h</text>
<rect x="758.6" y="871.7" width="250.4" height="199.3" fill="none" stroke="#222" stroke-width="1.2"/>
<g stroke="#222" stroke-width="1">
<line x1="754.6" y1="885.7" x2="758.6" y2="885.7"/><line x1="754.6" y1="943.5" x2="758.6" y2="943.5"/><line x1="754.6" y1="1001.3" x2="758.6" y2="1001.3"/><line x1="754.6" y1="1059" x2="758.6" y2="1059"/>
<line x1="756.1" y1="914.6" x2="758.6" y2="914.6"/><line x1="756.1" y1="972.4" x2="758.6" y2="972.4"/><line x1="756.1" y1="1030.2" x2="758.6" y2="1030.2"/>
<line x1="789.2" y1="1071" x2="789.2" y2="1075"/><line x1="852" y1="1071" x2="852" y2="1075"/><line x1="914.8" y1="1071" x2="914.8" y2="1075"/><line x1="977.6" y1="1071" x2="977.6" y2="1075"/>
<line x1="758" y1="1071" x2="758" y2="1073.5"/><line x1="820.6" y1="1071" x2="820.6" y2="1073.5"/><line x1="883.4" y1="1071" x2="883.4" y2="1073.5"/><line x1="946.2" y1="1071" x2="946.2" y2="1073.5"/><line x1="1009" y1="1071" x2="1009" y2="1073.5"/>
</g>
<g font-size="12.5" fill="#222" text-anchor="end">
<text x="747" y="890.2">−0.4</text><text x="747" y="948">−0.6</text><text x="747" y="1005.8">−0.8</text><text x="747" y="1063.5">−1.0</text>
</g>
<g font-size="12.5" fill="#222" text-anchor="middle">
<text x="789.2" y="1091">1.0</text><text x="852" y="1091">1.2</text><text x="914.8" y="1091">1.4</text><text x="977.6" y="1091">1.6</text>
</g>
<text x="883.6" y="1115" font-size="14" fill="#222" text-anchor="middle">BD</text>
<text x="705" y="970" font-size="14.5" fill="#222" text-anchor="middle" transform="rotate(-90 705 970)">Current (mA)</text>
<line x1="780.4" y1="1046" x2="985" y2="926" stroke="#111" stroke-width="3.5" stroke-dasharray="7,5"/>
<g stroke-width="1.5">
<circle cx="786.1" cy="1056.7" r="6" fill="#fdd0d0" stroke="#f08080"/>
<circle cx="859.1" cy="984.3" r="6" fill="#40d090" stroke="#2a8a60"/>
<circle cx="954.4" cy="915" r="6" fill="#fde090" stroke="#f0b040"/>
<circle cx="971" cy="940.7" r="6" fill="#e0a0c0" stroke="#b05080"/>
<circle cx="985" cy="947.7" r="6" fill="#c8d0f8" stroke="#6080d0"/>
</g>
<g font-size="14" fill="#222">
<text x="764.3" y="889">Current = 0.64BD − 1.580</text>
<text x="764.3" y="909"><tspan font-style="italic">R</tspan><tspan font-size="9.5" dy="-6">2</tspan><tspan dy="6"> = 0.85</tspan></text>
<text x="764.3" y="926">RSS = 0.02</text>
<text x="915" y="922">Ni<tspan font-size="10" dy="4">3</tspan><tspan dy="-4">C</tspan></text>
<text x="918.6" y="943">Ni<tspan font-size="10" dy="4">2</tspan><tspan dy="-4">P</tspan></text>
<text x="966.6" y="972">NiO</text>
<text x="880" y="1003">NiS<tspan font-size="10" dy="4">2</tspan></text>
<text x="801.4" y="1057">NiSe<tspan font-size="10" dy="4">2</tspan></text>
</g>
</svg>
</body></html>
